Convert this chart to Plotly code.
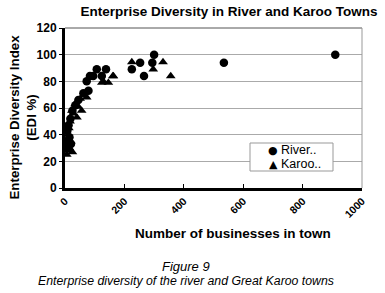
import plotly.graph_objects as go

river_x = [910, 535, 300, 294, 253, 266, 225, 138, 107, 124, 95, 84, 73, 79, 62, 45, 35, 25, 18, 12, 8, 15, 20, 10, 5]
river_y = [100, 94, 100, 94, 94, 84, 89, 89, 89, 84, 84, 84, 80, 73, 71, 66, 62, 58, 52, 47, 43, 38, 33, 30, 35]

karoo_x = [225, 330, 297, 356, 163, 146, 124, 129, 161, 73, 56, 51, 40, 34, 28, 23, 17, 13, 10, 20, 8, 6, 15, 25, 45]
karoo_y = [94.5, 94.5, 89, 84, 84, 79, 79, 80, 84, 68, 58, 67, 53, 63, 56, 58, 50, 45, 40, 35, 28, 25, 30, 27, 61]

series_names = ["River..", "Karoo.."]
series_glyphs = ["\u25CF", "\u25B2"]

x_ticks = [0, 200, 400, 600, 800, 1000]
y_ticks = [0, 20, 40, 60, 80, 100, 120]

FONT = "Arial, Liberation Sans, sans-serif"

L, R, T, B = 65, 23, 28, 105
PW, PH = 385 - L - R, 293 - T - B


def px(xp):
    return (xp - L) / PW


def py(yp):
    return (T + PH - yp) / PH


fig = go.Figure()
fig.add_trace(go.Scatter(x=river_x, y=river_y, mode="markers", name=series_names[0],
                         marker=dict(symbol="circle", size=8.5, color="black")))
fig.add_trace(go.Scatter(x=karoo_x, y=karoo_y, mode="markers", name=series_names[1],
                         marker=dict(symbol="triangle-up", size=8.5, color="black")))

# legend box drawn as shapes/text (compact, like the original)
legend_ann = []
for i, (nm, gl) in enumerate(zip(series_names, series_glyphs)):
    yrow = 150 + 14 * i
    legend_ann.append(dict(text=gl, xref="paper", yref="paper", x=px(273), y=py(yrow),
                           xanchor="center", yanchor="middle", showarrow=False,
                           font=dict(size=11, family="DejaVu Sans")))
    legend_ann.append(dict(text=nm, xref="paper", yref="paper", x=px(279), y=py(yrow),
                           xanchor="left", yanchor="middle", showarrow=False,
                           font=dict(size=12.5, family=FONT)))

fig.update_layout(
    width=385, height=293,
    margin=dict(l=L, r=R, t=T, b=B, autoexpand=False),
    paper_bgcolor="white", plot_bgcolor="white",
    font=dict(family=FONT, color="black"),
    title=dict(text="<b>Enterprise Diversity in River and Karoo Towns</b>",
               x=229/385, xanchor="center", y=1 - 11/293, yanchor="middle",
               font=dict(size=13.5, family=FONT), automargin=False),
    showlegend=False,
    xaxis=dict(range=[0, 1000], tickvals=x_ticks, ticktext=[f"<b>{v}</b>" for v in x_ticks],
               tickangle=-45, tickfont=dict(size=10.5, family=FONT),
               showgrid=False, zeroline=False, automargin=False,
               showline=True, linecolor="black", linewidth=3,
               ticks="inside", ticklen=4, tickcolor="black"),
    yaxis=dict(range=[0, 120], tickvals=y_ticks, ticktext=[f"<b>{v}</b>" for v in y_ticks],
               tickfont=dict(size=12, family=FONT), automargin=False,
               showgrid=True, gridcolor="#aaaaaa", gridwidth=1, zeroline=False,
               showline=True, linecolor="black", linewidth=3,
               ticks="outside", ticklen=3, tickcolor="black"),
    shapes=[
        dict(type="line", xref="paper", yref="paper", x0=0, x1=1, y0=1, y1=1,
             line=dict(color="#555555", width=1)),
        dict(type="line", xref="paper", yref="paper", x0=1, x1=1, y0=0, y1=1,
             line=dict(color="#999999", width=1)),
        dict(type="rect", xref="paper", yref="paper", x0=px(250), x1=px(333), y0=py(171), y1=py(143),
             line=dict(color="#999999", width=1), fillcolor="white", layer="above"),
    ],
    annotations=legend_ann + [
        dict(text="<b>Number of businesses in town</b>", xref="paper", yref="paper",
             x=px(233), y=py(233), xanchor="center", yanchor="middle",
             showarrow=False, font=dict(size=13.5, family=FONT)),
        dict(text="<b>Enterprise Diversity Index<br>(EDI %)</b>", xref="paper", yref="paper",
             x=px(22.5), y=py(117), xanchor="center", yanchor="middle", textangle=-90,
             showarrow=False, font=dict(size=13.3, family=FONT)),
        dict(text="<i>Figure 9</i>", xref="paper", yref="paper",
             x=px(186), y=py(266), xanchor="center", yanchor="middle",
             showarrow=False, font=dict(size=13, family=FONT)),
        dict(text="<i>Enterprise diversity of the river and Great Karoo towns</i>", xref="paper", yref="paper",
             x=px(186), y=py(281), xanchor="center", yanchor="middle",
             showarrow=False, font=dict(size=12.3, family=FONT)),
    ],
)

fig.write_html("out.html", config={"displayModeBar": False},
               post_script="document.body.style.margin='0';document.body.style.overflow='hidden';")
